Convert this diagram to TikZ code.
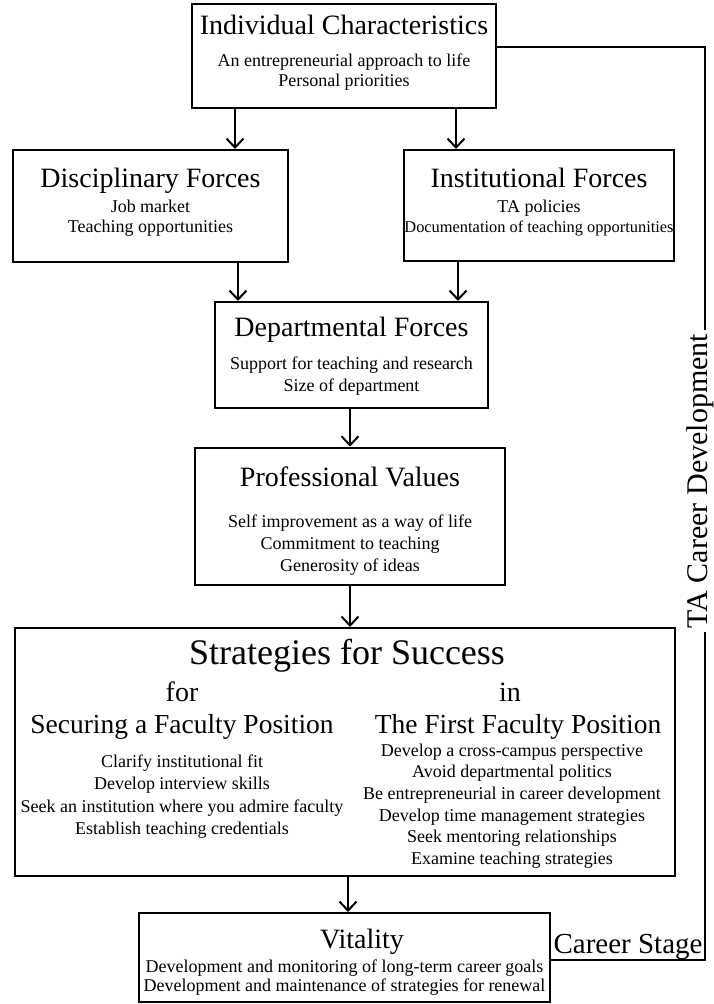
\documentclass[tikz,border=0pt]{standalone}
\usepackage{fontspec}
\setmainfont{Liberation Serif}
\usetikzlibrary{arrows.meta}

\tikzset{
  box/.style={draw, line width=2pt, inner sep=0pt},
  ttl/.style={font=\fontsize{28}{30}\selectfont, anchor=base},
  txt/.style={font=\fontsize{18}{20}\selectfont, align=center},
  arr/.style={line width=2pt, -{Straight Barb[length=9pt,width=17pt]}},
}

\begin{document}
\begin{tikzpicture}[x=1pt, y=-1pt]
    \useasboundingbox (0,0) rectangle (714,1004);
    % boxes
    \node[box, line width=2.6pt, minimum width=304pt, minimum height=104pt] (indiv) at (344,56) {};
    \node[box, minimum width=275pt, minimum height=112pt] (disc) at (150.5,206) {};
    \node[box, minimum width=270pt, minimum height=111pt] (inst) at (539,205.5) {};
    \node[box, minimum width=273pt, minimum height=106pt] (dept) at (351.5,355) {};
    \node[box, line width=2.6pt, minimum width=310pt, minimum height=137pt] (prof) at (350,516.5) {};
    \node[box, minimum width=660pt, minimum height=248pt] (strat) at (345,752) {};
    \node[box, minimum width=411pt, minimum height=89pt] (vital) at (344.5,957.5) {};
    % texts
    \node[ttl] (indivT) at (344,34) {Individual Characteristics};
    \node[txt] (indivL) at (344,72) {An entrepreneurial approach to life\\Personal priorities};
    \node[ttl] (discT) at (150.5,187) {Disciplinary Forces};
    \node[txt] (discL) at (150.5,218) {Job market\\Teaching opportunities};
    \node[ttl] (instT) at (539,187) {Institutional Forces};
    \node[txt] (instL) at (539,218) {TA policies\\{\fontsize{16.4}{20}\selectfont Documentation of teaching opportunities}};
    \node[ttl] (deptT) at (351.5,336) {Departmental Forces};
    \node[txt, font=\fontsize{18}{22}\selectfont] (deptL) at (351.5,376) {Support for teaching and research\\Size of department};
    \node[ttl] (profT) at (350,486) {Professional Values};
    \node[txt, font=\fontsize{18}{22}\selectfont] (profL) at (350,545) {Self improvement as a way of life\\Commitment to teaching\\Generosity of ideas};
    \node[font=\fontsize{36}{38}\selectfont] (stratT) at (347,656) {Strategies for Success};
    \node[ttl] (forT) at (182,701) {for};
    \node[ttl] (inT) at (510,701) {in};
    \node[ttl, font=\fontsize{27.5}{30}\selectfont] (secT) at (182,733) {Securing a Faculty Position};
    \node[ttl, font=\fontsize{27.5}{30}\selectfont] (firstT) at (518,733) {The First Faculty Position};
    \node[txt, font=\fontsize{18}{22.3}\selectfont] (secL) at (182,796.5) {Clarify institutional fit\\Develop interview skills\\Seek an institution where you admire faculty\\Establish teaching credentials};
    \node[txt, font=\fontsize{18}{21.6}\selectfont] (firstL) at (512,806) {Develop a cross-campus perspective\\Avoid departmental politics\\Be entrepreneurial in career development\\Develop time management strategies\\Seek mentoring relationships\\Examine teaching strategies};
    \node[ttl] (vitalT) at (362,948) {Vitality};
    \node[txt, font=\fontsize{18}{19.5}\selectfont] (vitalL) at (344.5,977.5) {Development and monitoring of long-term career goals\\Development and maintenance of strategies for renewal};
    \node[font=\fontsize{29}{31}\selectfont, anchor=base] (stage) at (628,953) {Career Stage};
    % arrows
    \draw[arr] (235,0 |- indiv.south) -- (235,0 |- disc.north);
    \draw[arr] (456,0 |- indiv.south) -- (456,0 |- inst.north);
    \draw[arr] (238,0 |- disc.south) -- (238,0 |- dept.north);
    \draw[arr] (458,0 |- inst.south) -- (458,0 |- dept.north);
    \draw[arr] (350,0 |- dept.south) -- (350,0 |- prof.north);
    \draw[arr] (350,0 |- prof.south) -- (350,0 |- strat.north);
    \draw[arr] (348,0 |- strat.south) -- (348,0 |- vital.north);
    % career loop
    \coordinate (cb) at (705,960);
    \coordinate (ct) at (705,47);
    \draw[line width=2pt, line join=miter] (vital.east |- cb) -- (cb) -- (ct) -- (indiv.east |- ct);
    \node[fill=white, rotate=90, inner xsep=4pt, inner ysep=0pt, font=\fontsize{30}{32}\selectfont] (tacd) at (700,481) {TA Career Development};
\end{tikzpicture}
\end{document}
